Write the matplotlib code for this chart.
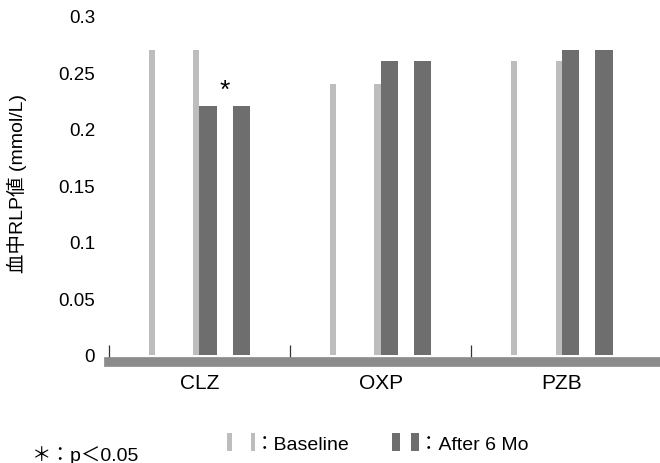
import matplotlib
matplotlib.use("Agg")
import matplotlib.pyplot as plt
import numpy as np
from matplotlib import font_manager
from matplotlib.patches import Patch, Rectangle

plt.rcParams['font.family'] = ['Liberation Sans', 'Noto Sans CJK JP', 'DejaVu Sans']

# datos
categorias = ["CLZ", "OXP", "PZB"]
baseline = [0.27, 0.24, 0.26]
despues_6m = [0.22, 0.26, 0.27]
marcas_sig = ["*", "", ""]
yticks = [0, 0.05, 0.1, 0.15, 0.2, 0.25, 0.3]
ytick_labels = ["0", "0.05", "0.1", "0.15", "0.2", "0.25", "0.3"]

color_base = "#bdbdbd"
color_6m = "#6e6e6e"

# fuente estrecha para las categorías si está instalada
nombres = {f.name for f in font_manager.fontManager.ttflist}
fuente_cat = "Liberation Sans Narrow" if "Liberation Sans Narrow" in nombres else "Liberation Sans"

fig = plt.figure(figsize=(6.6, 4.64), dpi=100)
ax = fig.add_axes([0.165, 0.2328, 0.84, 0.7306])

x = np.arange(len(categorias))
ancho = 0.28


def barras_tiras(pos, valores, ancho_tira, color):
    # el escaneo solo conserva los bordes de cada barra: dos tiras por barra
    izq = pos - ancho / 2 + ancho_tira / 2
    der = pos + ancho / 2 - ancho_tira / 2
    ax.bar(izq, valores, ancho_tira, color=color, linewidth=0)
    ax.bar(der, valores, ancho_tira, color=color, linewidth=0)


barras_tiras(x - ancho / 2, baseline, 0.035, color_base)
barras_tiras(x + ancho / 2, despues_6m, 0.095, color_6m)

for xi, v, m in zip(x, despues_6m, marcas_sig):
    if m:
        ax.annotate(m, (xi + ancho / 2, v), xytext=(0, 3), textcoords="offset points",
                    ha="center", va="bottom", fontsize=19)

ax.set_xlim(-0.5, 2.56)
ax.set_ylim(0, 0.3)
ax.set_yticks(yticks)
ax.set_yticklabels(ytick_labels)
ax.set_xticks(x)
ax.set_xticklabels(categorias, fontfamily=[fuente_cat, 'Liberation Sans'])
ax.set_xticks(x - 0.5, minor=True)

for lado in ["top", "right", "left"]:
    ax.spines[lado].set_visible(False)
ax.spines["bottom"].set_linewidth(7)
ax.spines["bottom"].set_color("#8c8c8c")
ax.spines["bottom"].set_position(("outward", 5))

ax.tick_params(axis="y", length=0, pad=10, labelsize=13.5)
ax.tick_params(axis="x", which="major", length=0, pad=8, labelsize=15)
ax.tick_params(axis="x", which="minor", direction="in", length=12, width=0.9, color="#333333")

ax.set_ylabel("血中RLP値 (mmol/L)", fontsize=14)
ax.yaxis.set_label_coords(-0.148, 0.51)


class HandlerTiras:
    """Dibuja el parche de la leyenda como dos tiras, como en el original."""

    def __init__(self, frac):
        self.frac = frac

    def legend_artist(self, legend, orig_handle, fontsize, handlebox):
        x0, y0 = -handlebox.xdescent, -handlebox.ydescent
        w, h = handlebox.width, handlebox.height
        tira = w * self.frac
        for xx in (x0, x0 + w - tira):
            r = Rectangle((xx, y0), tira, h, facecolor=orig_handle.get_facecolor(),
                          linewidth=0, transform=handlebox.get_transform())
            handlebox.add_artist(r)
        return r


h_base = Patch(color=color_base)
h_6m = Patch(color=color_6m)
fig.legend([h_base, h_6m], ["：Baseline", "：After 6 Mo"], ncol=2, frameon=False,
           handler_map={h_base: HandlerTiras(0.15), h_6m: HandlerTiras(0.3)},
           handlelength=1.4, handleheight=1.0, handletextpad=0.0, columnspacing=2.2,
           fontsize=14, loc="center", bbox_to_anchor=(0.573, 0.043),
           borderpad=0, borderaxespad=0)
fig.text(0.048, 0.006, "＊：p＜0.05", fontsize=14, ha="left", va="baseline")

fig.savefig("out.png", dpi=100)
